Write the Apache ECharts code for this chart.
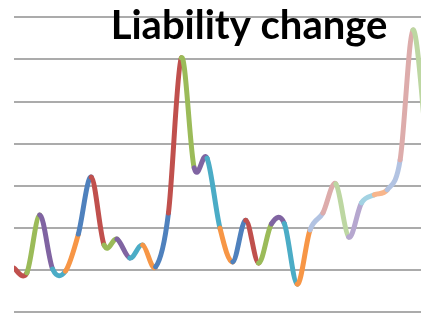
<!DOCTYPE html>
<html>
<head>
<meta charset="utf-8">
<script src="https://cdn.jsdelivr.net/npm/echarts@6/dist/echarts.min.js"></script>
<style>
html,body{margin:0;padding:0;background:#fff;}
#c{width:421px;height:313px;}
</style>
</head>
<body>
<div id="c"></div>
<script>
var titleText = 'Liability change';
var liabilityValues = [10.4, 9.3, 23.0, 10.2, 9.7, 18.5, 32.0, 15.9, 17.3, 12.8, 15.9, 10.7, 23.5, 60.3, 34.2, 36.5, 19.9, 11.9, 21.8, 11.6, 20.9, 21.0, 6.6, 19.5, 23.5, 30.4, 17.8, 25.9, 27.8, 29.0, 36.1, 66.9, 40.8];
var pointColors = ['#4F81BD', '#C0504D', '#9BBB59', '#8064A2', '#4BACC6', '#F79646'];
var lightColors = ['#B2C3E2', '#DDACAB', '#BDD7A2', '#B6A7CF', '#A3D3E3', '#F8B68C'];

var n = liabilityValues.length;
var segData = [];
for (var i = 0; i < n - 1; i++) { segData.push([i, liabilityValues[i], i + 1, liabilityValues[i + 1]]); }

function segColor(k) {
  var pal = k >= 24 ? lightColors : pointColors;
  return pal[k % 6];
}

function renderSeg(params, api) {
  var i = params.dataIndex;
  function P(j) {
    j = Math.max(0, Math.min(n - 1, j));
    return api.coord([j, liabilityValues[j]]);
  }
  var p0 = P(i - 1), p1 = P(i), p2 = P(i + 1), p3 = P(i + 2);
  var t = 1 / 6;
  return {
    type: 'bezierCurve',
    shape: {
      x1: p1[0], y1: p1[1], x2: p2[0], y2: p2[1],
      cpx1: p1[0] + (p2[0] - p0[0]) * t, cpy1: p1[1] + (p2[1] - p0[1]) * t,
      cpx2: p2[0] - (p3[0] - p1[0]) * t, cpy2: p2[1] - (p3[1] - p1[1]) * t
    },
    style: { stroke: segColor(i + 1), lineWidth: 5, lineCap: 'round', fill: null }
  };
}

var chart = echarts.init(document.getElementById('c'), null, { renderer: 'canvas' });
chart.setOption({
  animation: false,
  backgroundColor: '#ffffff',
  title: {
    text: titleText,
    left: 244, top: 1, textAlign: 'center',
    textStyle: { fontFamily: 'Lato', fontWeight: 'bold', fontSize: 40, color: '#000000' }
  },
  grid: { left: 14, right: 0, top: 17, bottom: 1 },
  xAxis: {
    type: 'value', min: 0, max: 31.62,
    axisLine: { show: false }, axisTick: { show: false }, axisLabel: { show: false }, splitLine: { show: false }
  },
  yAxis: {
    type: 'value', min: 0, max: 70, interval: 10,
    axisLine: { show: false }, axisTick: { show: false }, axisLabel: { show: false },
    splitLine: { show: true, lineStyle: { color: '#ABABAB', width: 2 } }
  },
  series: [{
    type: 'custom', data: segData, renderItem: renderSeg, clip: true,
    encode: { x: [0, 2], y: [1, 3] }
  }]
});
</script>
</body>
</html>
